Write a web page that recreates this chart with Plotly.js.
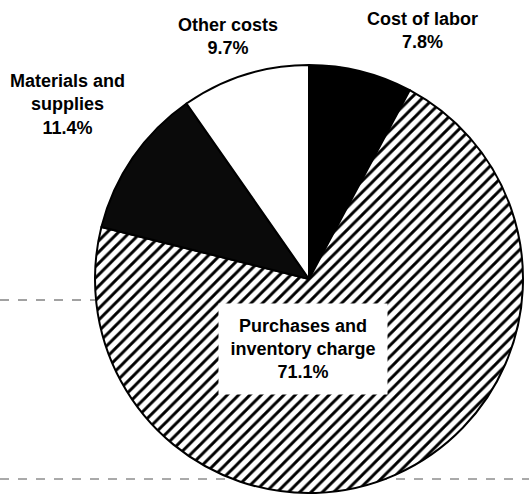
<!DOCTYPE html>
<html>
<head>
<meta charset="utf-8">
<script src="https://cdn.plot.ly/plotly-3.0.1.min.js"></script>
<style>html,body{margin:0;padding:0;background:#fff;}#chart{width:529px;height:494px;}</style>
</head>
<body>
<div id="chart"></div>
<script>
const categories = ["Cost of labor", "Purchases and inventory charge", "Materials and supplies", "Other costs"];
const shares = [7.8, 71.1, 11.4, 9.7];
const labelTexts = ["Cost of labor<br>7.8%", "Purchases and<br>inventory charge<br>71.1%", "Materials and<br>supplies<br>11.4%", "Other costs<br>9.7%"];

const font = {family: "Liberation Sans, Arial, sans-serif", size: 18, color: "#000"};

const trace = {
  type: "pie",
  labels: categories,
  values: shares,
  sort: false,
  direction: "clockwise",
  rotation: 0,
  textinfo: "none",
  hoverinfo: "label+percent",
  domain: {x: [95/529, 523/529], y: [1 - 493/494, 1 - 65/494]},
  marker: {
    colors: ["#000000", "#ffffff", "#0a0a0a", "#ffffff"],
    line: {color: "#000", width: 2},
    pattern: {
      shape: ["", "/", "", ""],
      fgcolor: "#000",
      bgcolor: ["#000000", "#ffffff", "#0a0a0a", "#ffffff"],
      size: 8,
      solidity: 0.36
    }
  }
};

const annPos = [
  {x: 422/529, y: 1 - 31/494},
  {x: 303/529, y: 1 - 349/494},
  {x: 67/529, y: 1 - 104/494},
  {x: 228/529, y: 1 - 36/494}
];

const annotations = labelTexts.map((t, i) => {
  const a = {
    xref: "paper", yref: "paper",
    x: annPos[i].x, y: annPos[i].y,
    text: "<b>" + t + "</b>",
    showarrow: false,
    font: font,
    align: "center",
    xanchor: "center", yanchor: "middle"
  };
  if (i === 1) {
    a.bgcolor = "#ffffff";
    a.borderpad = 6;
    a.width = 156;
    a.height = 78;
  }
  return a;
});

const shapes = [
  {type: "line", xref: "paper", yref: "paper", x0: 0, x1: 95/529, y0: 1 - 300/494, y1: 1 - 300/494, layer: "below",
   line: {color: "#444", width: 1, dash: "dash"}},
  {type: "line", xref: "paper", yref: "paper", x0: 0, x1: 1, y0: 1 - 479/494, y1: 1 - 479/494, layer: "below",
   line: {color: "#555", width: 1, dash: "dash"}}
];

const layout = {
  width: 529, height: 494,
  margin: {l: 0, r: 0, t: 0, b: 0},
  paper_bgcolor: "#fff",
  showlegend: false,
  annotations: annotations,
  shapes: shapes
};

Plotly.newPlot("chart", [trace], layout, {staticPlot: true});
</script>
</body>
</html>
